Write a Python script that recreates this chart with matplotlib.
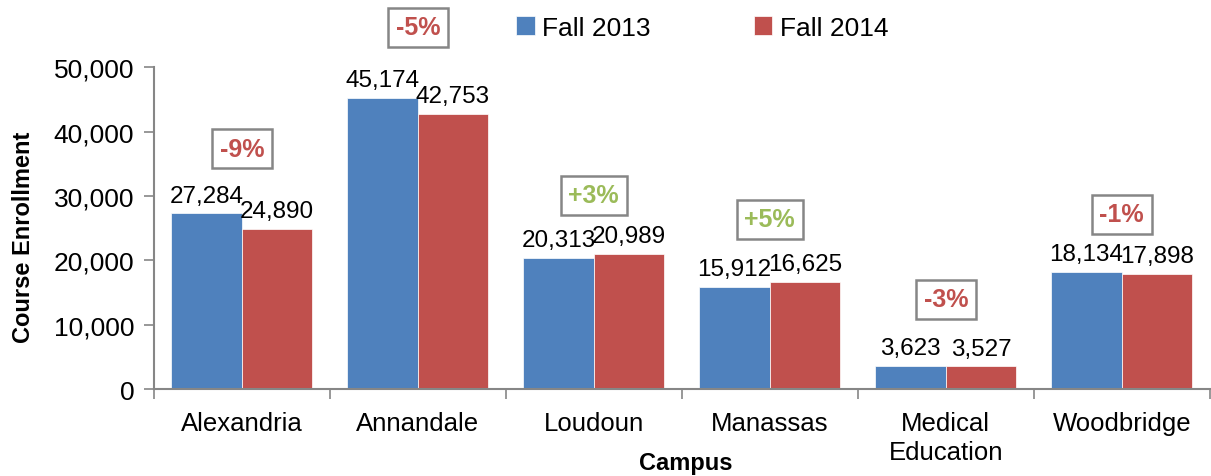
import numpy as np
import matplotlib.pyplot as plt
from matplotlib.ticker import FuncFormatter, FixedLocator

campuses = ["Alexandria", "Annandale", "Loudoun", "Manassas", "Medical\nEducation", "Woodbridge"]
fall_2013 = [27284, 45174, 20313, 15912, 3623, 18134]
fall_2014 = [24890, 42753, 20989, 16625, 3527, 17898]
pct_labels = ["-9%", "-5%", "+3%", "+5%", "-3%", "-1%"]
pct_y = [37300, 56200, 30100, 26400, 14000, 27200]

BLUE = "#4F81BD"
RED = "#C0504D"
GREEN = "#9BBB59"
GRAY = "#868686"

plt.rcParams['font.family'] = ['Liberation Sans', 'DejaVu Sans']

fig = plt.figure(figsize=(12.11, 4.77), dpi=100)
ax = fig.add_axes([0.127, 0.182, 0.872, 0.675])

x = np.arange(len(campuses))
w = 0.4
b1 = ax.bar(x - w / 2, fall_2013, w, color=BLUE, edgecolor="white", linewidth=0.5, label="Fall 2013")
b2 = ax.bar(x + w / 2, fall_2014, w, color=RED, edgecolor="white", linewidth=0.5, label="Fall 2014")

for bars in (b1, b2):
    for rect in bars:
        h = rect.get_height()
        ax.annotate(f"{h:,.0f}", (rect.get_x() + rect.get_width() / 2, h),
                    xytext=(0, 5), textcoords="offset points", ha="center", va="bottom",
                    fontsize=17.5, annotation_clip=False)

for i, (lab, yy) in enumerate(zip(pct_labels, pct_y)):
    col = GREEN if lab.startswith("+") else RED
    ax.text(i, yy, lab, ha="center", va="center", fontsize=18, fontweight="bold", color=col,
            clip_on=False,
            bbox=dict(boxstyle="square,pad=0.3", facecolor="white", edgecolor=GRAY, linewidth=1.8))

ax.set_xlim(-0.5, len(campuses) - 0.5)
ax.set_ylim(0, 50000)
ax.set_yticks(np.arange(0, 50001, 10000))
ax.yaxis.set_major_formatter(FuncFormatter(lambda v, p: f"{v:,.0f}"))

ax.set_xticks(x)
ax.set_xticklabels(campuses, fontsize=18.5, linespacing=1.25)
ax.xaxis.set_minor_locator(FixedLocator(np.arange(-0.5, len(campuses), 1.0)))
ax.tick_params(axis="x", which="major", length=0, pad=16)
ax.tick_params(axis="x", which="minor", length=7, width=1.2, color=GRAY, direction="out")
ax.tick_params(axis="y", length=7, width=1.2, color=GRAY, labelsize=19, pad=7)

for s in ("top", "right"):
    ax.spines[s].set_visible(False)
for s in ("left", "bottom"):
    ax.spines[s].set_color(GRAY)
    ax.spines[s].set_linewidth(1.5)

fig.text(0.019, 0.503, "Course Enrollment", rotation=90, ha="center", va="center",
         fontsize=17, fontweight="bold")
fig.text(0.566, 0.029, "Campus", ha="center", va="center", fontsize=17, fontweight="bold")

fig.legend(handles=[b1, b2], loc="center", bbox_to_anchor=(0.58, 0.94), ncol=2, frameon=False,
           fontsize=19, handlelength=0.7, handleheight=0.7, handletextpad=0.3, columnspacing=3.9)

fig.savefig("out.png", dpi=100)
